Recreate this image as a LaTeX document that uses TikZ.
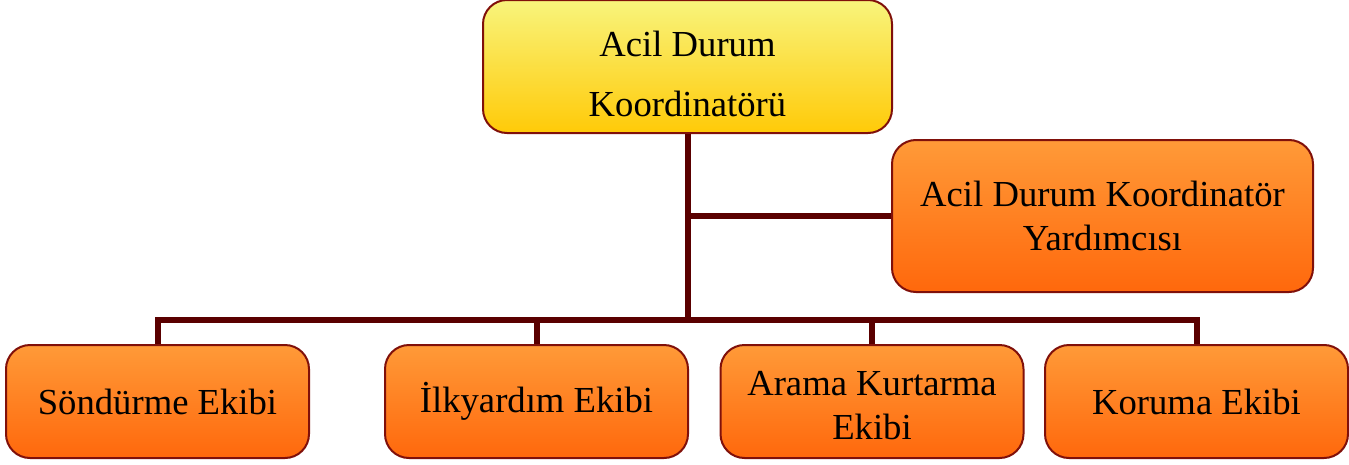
\documentclass[tikz,border=0pt]{standalone}
\usepackage{fontspec}
\setmainfont{Liberation Serif}

\definecolor{boxline}{RGB}{128,16,10}
\definecolor{linkred}{RGB}{90,0,0}
\definecolor{yelltop}{RGB}{248,244,124}
\definecolor{yellbot}{RGB}{255,202,8}
\definecolor{orgtop}{RGB}{255,154,56}
\definecolor{orgbot}{RGB}{255,104,12}

\tikzset{every picture/.style={line width=0.75pt}}
\tikzset{
  orgbox/.style={draw=boxline, line width=1.5pt, rounded corners=18pt, align=center, inner sep=0pt,
    font={\fontsize{27.5}{33}\selectfont}},
  headbox/.style={orgbox, top color=yelltop, bottom color=yellbot, minimum width=306.75pt, minimum height=99.75pt},
  helpbox/.style={orgbox, top color=orgtop, bottom color=orgbot, minimum width=315.75pt, minimum height=114pt},
  teambox/.style={orgbox, top color=orgtop, bottom color=orgbot, minimum width=227.25pt, minimum height=84.75pt},
  link/.style={draw=linkred, line width=4.5pt}
}

\begin{document}
\begin{tikzpicture}[x=0.75pt,y=0.75pt,yscale=-1,xscale=1]
\useasboundingbox (0,0) rectangle (1349,464);

% Head node
\node [headbox] (head) at (687.5,66.5) {\rule{0pt}{31pt}Acil Durum\\[12pt]Koordinatörü};
% Assistant node
\node [helpbox] (yard) at (1102.5,216) {Acil Durum Koordinatör\\Yardımcısı};
% Team nodes
\node [teambox] (sond) at (157.5,401.5) {Söndürme Ekibi};
\node [teambox] (ilk) at (536.5,401.5) {İlkyardım Ekibi};
\node [teambox] (arama) at (872,401.5) {\rule{0pt}{24pt}Arama Kurtarma\\Ekibi};
\node [teambox] (koru) at (1196.5,401.5) {Koruma Ekibi};

%Straight Lines
\coordinate (bus) at (687.5,320);
\draw [link] (head.south) -- (bus);
\draw [link] (head.south |- yard.west) -- (yard.west);
\draw [link] (sond.north) |- (bus) -| (koru.north);
\draw [link] (ilk.north) -- (ilk.north |- bus);
\draw [link] (arama.north) -- (arama.north |- bus);

\end{tikzpicture}
\end{document}
